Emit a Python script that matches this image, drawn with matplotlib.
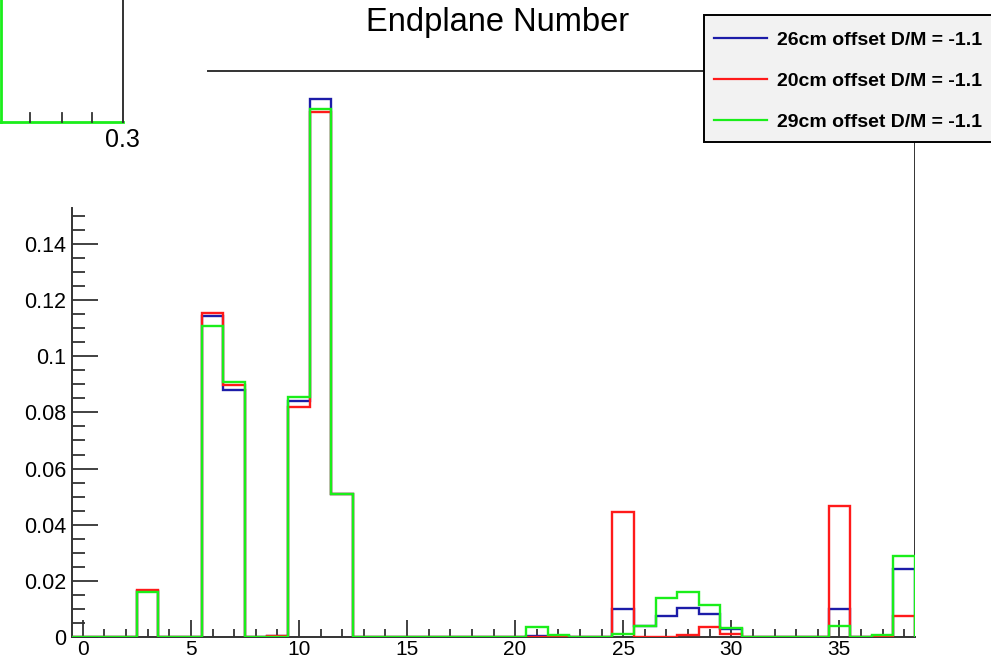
import numpy as np
import matplotlib
matplotlib.use("Agg")
import matplotlib.pyplot as plt
from matplotlib.lines import Line2D
from matplotlib.patches import Rectangle
from matplotlib.ticker import FixedLocator

plt.rcParams['font.family'] = ['Liberation Sans', 'DejaVu Sans']

# endplane bins 0..38, fraction of hits per plane
planes = np.arange(39)
edges = np.arange(40) - 0.5

off26 = [0, 0, 0, 0.0163, 0, 0, 0.1145, 0.0879, 0, 0.0005,
         0.0840, 0.1917, 0.0509, 0, 0, 0, 0, 0, 0, 0,
         0, 0.0002, 0.0003, 0, 0, 0.0099, 0.0039, 0.0076, 0.0103, 0.0081,
         0.0028, 0, 0, 0, 0, 0.0099, 0, 0, 0.0241]
off20 = [0, 0, 0, 0.0168, 0, 0, 0.1153, 0.0899, 0, 0.0003,
         0.0819, 0.1869, 0.0509, 0, 0, 0, 0, 0, 0, 0,
         0, 0, 0, 0, 0, 0.0444, 0, 0, 0.0006, 0.0034,
         0.0012, 0, 0, 0, 0, 0.0468, 0, 0.0004, 0.0076]
off29 = [0, 0, 0, 0.0160, 0, 0, 0.1107, 0.0908, 0, 0,
         0.0856, 0.1880, 0.0509, 0, 0, 0, 0, 0, 0, 0,
         0, 0.0037, 0.0006, 0, 0, 0.0011, 0.0039, 0.0140, 0.0161, 0.0113,
         0.0033, 0, 0, 0, 0, 0.0038, 0, 0.0007, 0.0289]

labels = ["26cm offset D/M = -1.1", "20cm offset D/M = -1.1", "29cm offset D/M = -1.1"]
colors = ["#1c1ca8", "#ff1a1a", "#1aee1a"]

W, H = 991, 662
fig = plt.figure(figsize=(W / 100, H / 100), dpi=100)
ax = fig.add_axes([72 / W, 25 / H, 843 / W, 637 / H])

ymax = 0.2269
ax.set_xlim(-0.5, 38.5)
ax.set_ylim(0, ymax)

for vals, c in zip([off26, off20, off29], colors):
    ax.stairs(vals, edges, baseline=0, color=c, lw=1.7, zorder=3)

# frame pieces
for s in ['top', 'right']:
    ax.spines[s].set_visible(False)
ax.spines['left'].set_bounds(0, 0.1528)
ax.spines['left'].set_color('#333333')
ax.spines['bottom'].set_color('#333333')
ax.spines['left'].set_linewidth(1.4)
ax.spines['bottom'].set_linewidth(1.4)
ax.plot([38.5, 38.5], [0, 0.2016], color='#333333', lw=1.4, zorder=2)
ax.plot([5.8, 38.5], [0.2016, 0.2016], color='#333333', lw=1.4, zorder=2)

ax.xaxis.set_major_locator(FixedLocator(np.arange(0, 36, 5)))
ax.xaxis.set_minor_locator(FixedLocator(np.arange(0, 39, 1)))
ax.yaxis.set_major_locator(FixedLocator(np.arange(0, 0.141, 0.02)))
ax.yaxis.set_minor_locator(FixedLocator(np.arange(0, 0.1501, 0.005)))
ax.set_yticklabels(["0", "0.02", "0.04", "0.06", "0.08", "0.1", "0.12", "0.14"])
ax.tick_params(axis='x', which='major', direction='in', length=12, width=1.3,
               color='#333333', labelsize=15, pad=2.5)
ax.tick_params(axis='x', which='minor', direction='in', length=6, width=1.3, color='#333333')
ax.tick_params(axis='y', which='major', direction='in', length=19, width=1.3,
               color='#333333', labelsize=15.5, pad=4)
ax.tick_params(axis='y', which='minor', direction='in', length=9, width=1.3, color='#333333')

fig.text(498 / W, 1 - 23 / H, "Endplane Number", ha='center', va='center', fontsize=23.5)

# small leftover pad in the upper-left corner
def px(x, y):
    return x / W, 1 - y / H

fig.add_artist(Line2D(*zip(px(1, 0), px(1, 122)), color='#1aee1a', lw=2))
fig.add_artist(Line2D(*zip(px(0, 122), px(123, 122)), color='#1aee1a', lw=2))
fig.add_artist(Line2D(*zip(px(123, 0), px(123, 122)), color='#333333', lw=1.4))
for tx in [30, 62, 92]:
    fig.add_artist(Line2D(*zip(px(tx, 113), px(tx, 122)), color='#333333', lw=1.3))
fig.text(122 / W, 1 - 140 / H, "0.3", ha='center', va='center', fontsize=18)

# legend box
box = Rectangle(px(704, 142), (W + 5 - 704) / W, 127 / H, transform=fig.transFigure,
                facecolor='#f2f2f2', edgecolor='black', lw=1.4, zorder=10)
fig.add_artist(box)
handles = [Line2D([], [], color=c, lw=1.6) for c in colors]
leg = fig.legend(handles, labels, loc='upper left', bbox_to_anchor=px(700, 18),
                 frameon=False, prop={'weight': 'bold', 'size': 14},
                 handlelength=2.75, handletextpad=0.5, labelspacing=1.2,
                 borderpad=0.2)
leg.set_zorder(11)

fig.savefig("out.png", dpi=100)
